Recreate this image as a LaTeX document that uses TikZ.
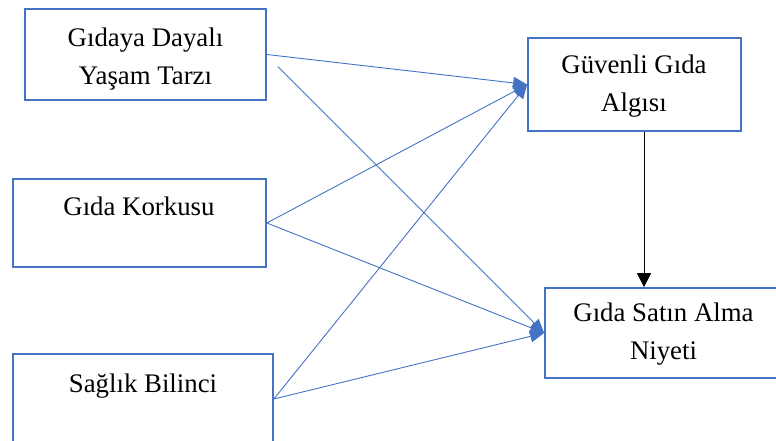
\documentclass[tikz,border=0pt]{standalone}
\usepackage{fontspec}
\setmainfont{Liberation Serif}
\usetikzlibrary{arrows.meta}
\definecolor{boxblue}{HTML}{4472C4}
\tikzset{
  box/.style={draw=boxblue, line width=1.7pt, rectangle, inner sep=0pt},
  lbl/.style={font=\fontsize{26.8}{38}\selectfont, align=center, inner sep=0pt, anchor=base},
  link/.style={draw=boxblue, line width=0.9pt, -{Triangle[length=14pt,width=12pt]}},
}
\begin{document}
\begin{tikzpicture}[x=1pt, y=-1pt]
\clip (0,0) rectangle (776,441);
% boxes
\node[box, minimum width=241pt, minimum height=91pt] (gdy) at (145.5,54.5) {};
\node[box, minimum width=253pt, minimum height=88pt] (gk) at (139.5,223) {};
\node[box, minimum width=260pt, minimum height=90pt] (sb) at (143,399) {};
\node[box, minimum width=213pt, minimum height=93pt] (gga) at (634.5,84.5) {};
\node[box, minimum width=237pt, minimum height=90pt] (gsn) at (663.5,333) {};
% texts (base = last line)
\node[lbl] (gdytext) at (145.5,85) {Gıdaya Dayalı\\Yaşam Tarzı};
\node[lbl] (gktext) at (139,215) {Gıda Korkusu};
\node[lbl] (sbtext) at (143,392) {Sağlık Bilinci};
\node[lbl] (ggatext) at (634,112) {Güvenli Gıda\\Algısı};
\node[lbl] (gsntext) at (663.5,359) {Gıda Satın Alma\\Niyeti};
% connectors
\draw[link] (gdy.east) -- (gga.west);
\draw[link] ([shift={(11,12)}]gdy.east) -- (gsn.west);
\draw[link] (gk.east) -- (gga.west);
\draw[link] (gk.east) -- (gsn.west);
\draw[link] (sb.east) -- (gga.west);
\draw[link] (sb.east) -- (gsn.west);
\draw[line width=1pt, -{Triangle[length=14pt,width=14pt]}] ([xshift=9.5pt]gga.south) -- ([xshift=-19.5pt]gsn.north);
\end{tikzpicture}
\end{document}
